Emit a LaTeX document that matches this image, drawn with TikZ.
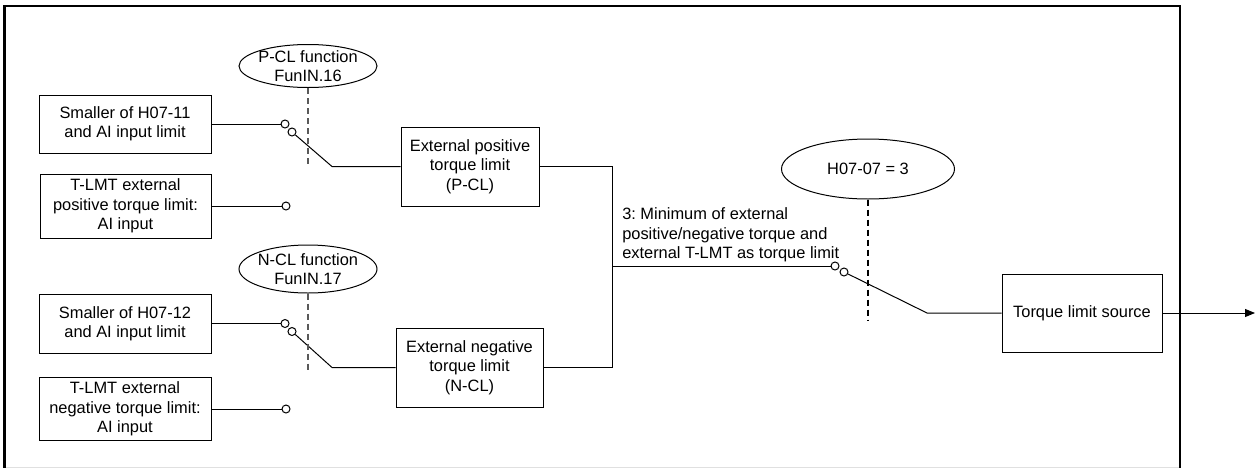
\documentclass[tikz,border=0pt]{standalone}
\usepackage{fontspec}
\setmainfont{Liberation Sans}
\usetikzlibrary{shapes.geometric,arrows.meta}
\frenchspacing
\begin{document}
\begin{tikzpicture}[x=0.75pt,y=-0.75pt,
  every node/.style={font=\fontsize{12.3pt}{14.6pt}\selectfont},
  box/.style={draw,line width=0.75pt,inner sep=0pt,align=center},
  oval/.style={draw,ellipse,line width=0.75pt,inner sep=0pt},
  contact/.style={draw,circle,line width=0.75pt,inner sep=0pt,minimum size=6pt,fill=white},
  wire/.style={line width=0.75pt},
  ctrl/.style={line width=0.9pt,dash pattern=on 4.5pt off 3pt},
  frame/.style={line width=1.7pt}
]
\useasboundingbox (0,0) rectangle (1256,468);
% frame
\draw[black!12,line width=0.75pt] (5,467) -- (1180,467);
\draw[frame] (4.5,467.5) -- (4.5,6) -- (1179.7,6) -- (1179.7,467.5);

% source boxes
\node[box,minimum width=129pt,minimum height=43.5pt] (a1) at (125,124) {Smaller of H07-11\\and AI input limit};
\node[box,minimum width=128.25pt,minimum height=48pt] (a2) at (125.5,206) {T-LMT external\\positive torque limit:\\AI input};
\node[box,minimum width=129pt,minimum height=44.25pt] (b1) at (125,323.5) {Smaller of H07-12\\and AI input limit};
\node[box,minimum width=129pt,minimum height=47.25pt] (b2) at (125,409) {T-LMT external\\negative torque limit:\\AI input};

% function ellipses
\node[oval,minimum width=103.5pt,minimum height=32.25pt,label={[align=center]center:P-CL function\\FunIN.16}] (pf) at (308,66) {};
\node[oval,minimum width=103.5pt,minimum height=36pt,label={[align=center]center:N-CL function\\FunIN.17}] (nf) at (308,269) {};
\node[oval,minimum width=129.75pt,minimum height=45pt,label={center:H07-07 = 3}] (hf) at (868,169) {};

% limit boxes
\node[box,minimum width=103.5pt,minimum height=59.25pt] (pcl) at (470,166.5) {External positive\\torque limit\\(P-CL)};
\node[box,minimum width=110.25pt,minimum height=59.25pt] (ncl) at (469.5,367.5) {External negative\\torque limit\\(N-CL)};
\node[box,minimum width=120pt,minimum height=58.5pt] (tls) at (1082,313) {Torque limit source};

% contacts
\node[contact] (c1) at (285,124) {};
\node[contact] (c2) at (292,132) {};
\node[contact] (c3) at (286,206) {};
\node[contact] (c7) at (285,323.5) {};
\node[contact] (c8) at (292,331.5) {};
\node[contact] (c9) at (286,409) {};
\node[contact] (c5) at (835,266) {};
\node[contact] (c6) at (844,272) {};

\coordinate (k1) at (332,166.5);
\coordinate (k2) at (332,367.5);
\coordinate (k3) at (927,313);
\coordinate (j1) at (612,166.5);
\coordinate (j2) at (612,367.5);
\coordinate (j3) at (612,266);
\coordinate (out) at (1255,313);
\coordinate (pd) at (308,165);
\coordinate (nd) at (308,370);
\coordinate (hd) at (868,321);

% wires
\draw[wire] (a1.east) -- (c1.west);
\draw[wire] (c2) -- (k1) -- (pcl.west);
\draw[wire] (a2.east) -- (c3.west);
\draw[wire] (b1.east) -- (c7.west);
\draw[wire] (c8) -- (k2) -- (ncl.west);
\draw[wire] (b2.east) -- (c9.west);
\draw[wire] (pcl.east) -- (j1) -- (j2) -- (ncl.east);
\draw[wire] (j3) -- (c5.west);
\draw[wire] (c6) -- (k3) -- (tls.west);
\draw[wire,-{Triangle[length=7.5pt,width=6pt]}] (tls.east) -- (out);

% control dashed lines
\draw[ctrl,black!65] (pf.south) -- (pd);
\draw[ctrl,black!65] (nf.south) -- (nd);
\draw[ctrl] (hf.south) -- (hd);

% label
\node[anchor=west,inner sep=0pt,align=left] (lbl) at (622,235) {3: Minimum of external\\positive/negative torque and\\external T-LMT as torque limit};
\end{tikzpicture}
\end{document}
